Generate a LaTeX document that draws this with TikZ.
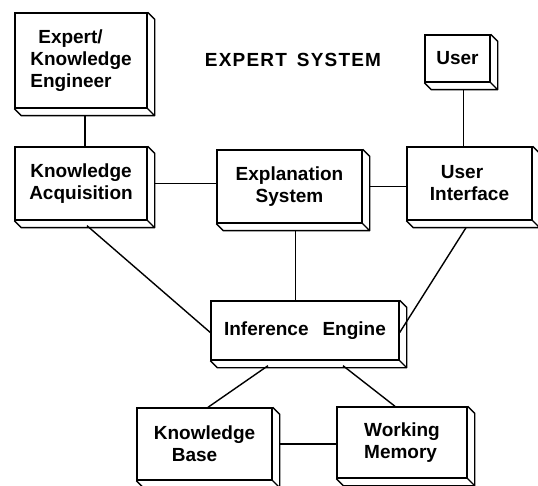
\documentclass[tikz,border=0pt]{standalone}
\usepackage{fontspec}
\setmainfont{Liberation Sans}
\newcommand\extrudebox[1]{%
  \draw[edge3d] (#1.north east) -- ++(7pt,-7pt) -- ([shift={(7pt,-7pt)}]#1.south east)
    -- ([shift={(7pt,-7pt)}]#1.south west) -- (#1.south west)
    (#1.south east) -- ++(7pt,-7pt);}
\newcommand\lsp{\kern1.2pt}
\tikzset{
  box/.style={draw, line width=1.4pt, inner sep=0pt, fill=white,
    font=\fontsize{19}{22}\selectfont\bfseries, align=center},
  edge3d/.style={line width=1.4pt, line join=round},
  link/.style={line width=1.4pt},
  titletext/.style={font=\fontsize{19}{22}\selectfont\bfseries}
}
\begin{document}
\begin{tikzpicture}[x=1pt,y=-1pt]
\useasboundingbox (0,0) rectangle (538,486);
\node[titletext] (title) at (293,60) {E\lsp X\lsp P\lsp E\lsp R\lsp T\hspace{10pt}S\lsp Y\lsp S\lsp T\lsp E\lsp M};
\node[box, align=left, minimum width=132pt, minimum height=95pt] (exp) at (81,60.5)
  {\hspace{8pt}Expert/\\Knowledge\\Engineer};
\node[box, minimum width=132pt, minimum height=73pt] (ka) at (81,183.5)
  {Knowledge\\Acquisition};
\node[box, minimum width=145pt, minimum height=73pt] (exs) at (289.5,186.5)
  {Explanation\\System};
\node[box, minimum width=65pt, minimum height=47pt] (user) at (457.5,58.5) {User};
\node[box, align=left, minimum width=125pt, minimum height=73pt] (ui) at (469.5,183.5)
  {\hspace{11pt}User\\Interface};
\node[box, minimum width=188pt, minimum height=59pt] (inf) at (305,330.5)
  {Inference\hspace{14pt}Engine};
\node[box, align=left, minimum width=135pt, minimum height=72pt] (kb) at (204.5,444)
  {Knowledge\\\hspace{18pt}Base};
\node[box, align=left, minimum width=130pt, minimum height=71pt] (wm) at (402,442.5)
  {Working\\Memory};
\foreach \n in {exp,ka,exs,user,ui,inf,kb,wm}{\extrudebox{\n}}
% connectors
\coordinate (expA) at ([shift={(4pt,-7pt)}]exp.south);
\draw[link] (expA) -- (expA |- ka.north);
\draw[link] ([xshift=7pt]ka.east) -- (ka.east -| exs.west);
\draw[link] ([xshift=7pt]exs.east) -- (exs.east -| ui.west);
\coordinate (userA) at ([shift={(6pt,-7pt)}]user.south);
\draw[link] (userA) -- (userA |- ui.north);
\coordinate (exsA) at ([shift={(6pt,-7pt)}]exs.south);
\draw[link] (exsA) -- (exsA |- inf.north);
\draw[link] ([shift={(6pt,-5pt)}]ka.south) -- ([yshift=-2pt]inf.west);
\draw[link] ([shift={(-3.5pt,-7pt)}]ui.south) -- ([yshift=-2pt]inf.east);
\draw[link] ([shift={(-37pt,-5pt)}]inf.south) -- ([xshift=3.5pt]kb.north);
\draw[link] ([shift={(38pt,-5pt)}]inf.south) -- ([xshift=-7pt]wm.north);
\draw[link] ([xshift=7pt]kb.east) -- (kb.east -| wm.west);
\end{tikzpicture}
\end{document}
